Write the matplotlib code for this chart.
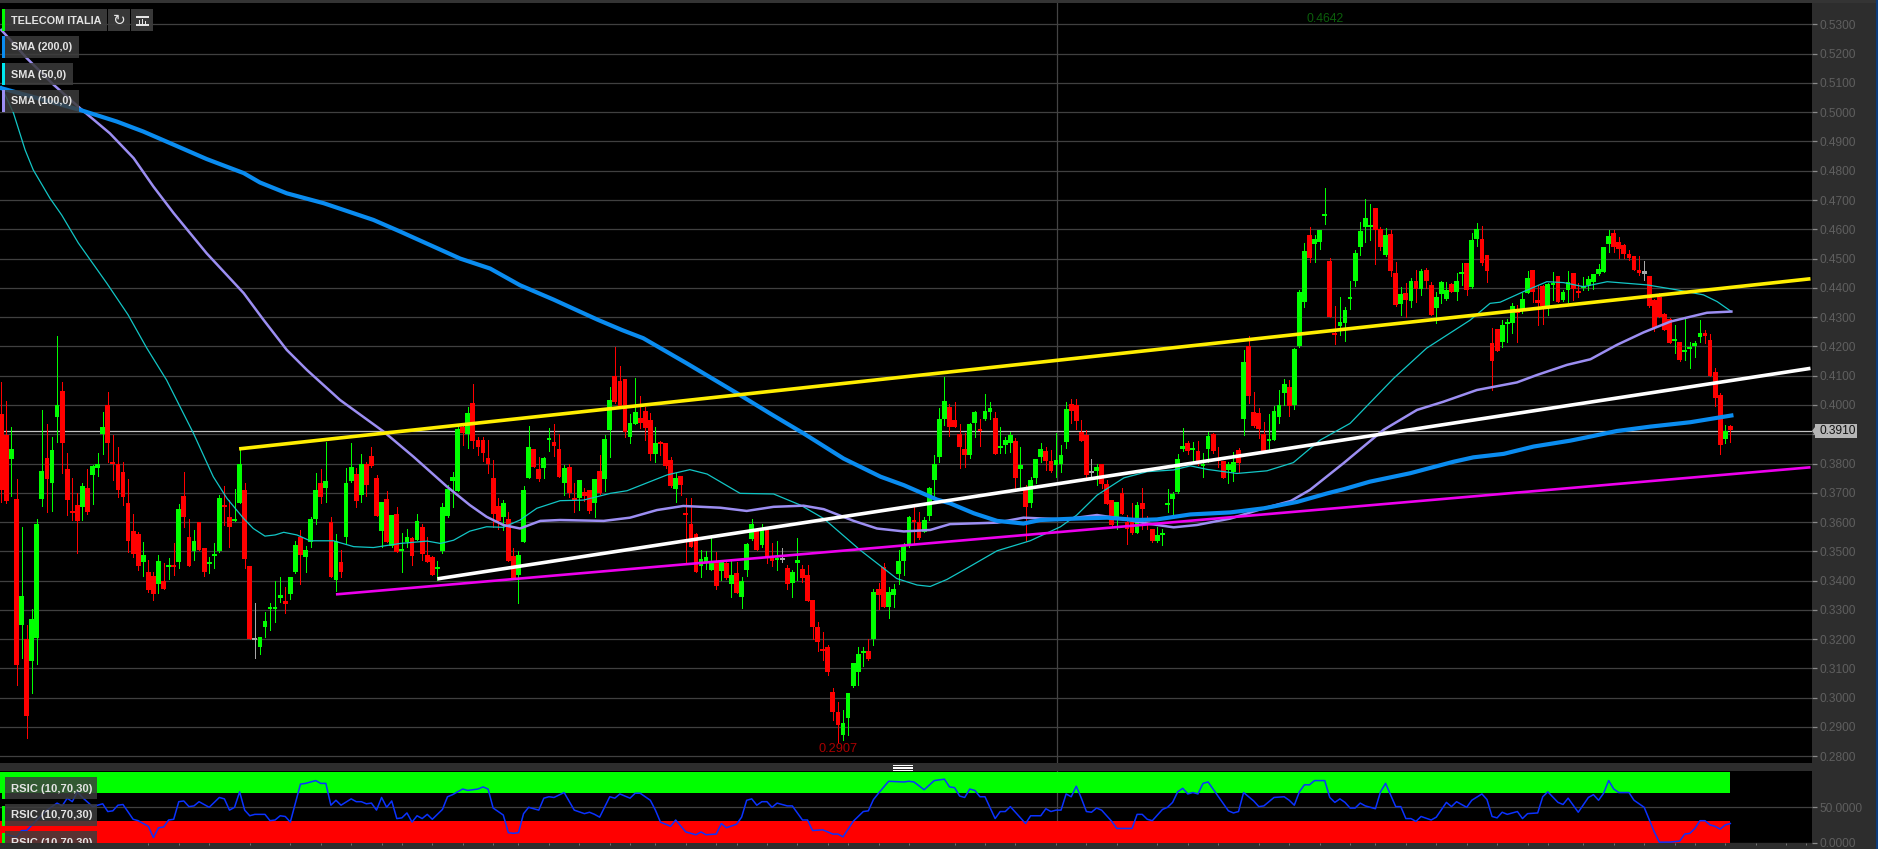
import numpy as np
import matplotlib
matplotlib.use("Agg")
import matplotlib.pyplot as plt
from matplotlib.patches import Rectangle, Polygon

W, H = 1878, 849
plt.rcParams['font.family'] = ['Liberation Sans', 'DejaVu Sans']

# prices in ten-thousandths of a euro, one entry per bar
open_ = [3969,3899,3817,3679,3250,3202,3125,3205,3680,3820,3735,3960,4048,3781,3635,3658,3651,3716,3761,3786,
3901,4000,3800,3799,3770,3665,3569,3559,3464,3430,3415,3390,3399,3447,3450,3463,3688,3550,3501,3599,
3510,3456,3483,3501,3656,3617,3605,3665,3709,3450,3196,3174,3240,3302,3303,3340,3329,3355,3429,3548,
3480,3533,3610,3732,3717,3601,3401,3464,3550,3741,3764,3692,3800,3825,3749,3570,3679,3518,3627,3501,
3533,3544,3540,3583,3489,3479,3438,3500,3622,3741,3707,3926,3901,4008,3880,3879,3819,3750,3656,3617,
3609,3483,3419,3533,3750,3848,3781,3786,3881,3872,3851,3733,3787,3681,3682,3701,3709,3665,3774,3747,
3915,4100,4082,4090,3890,3936,3954,3980,3948,3832,3869,3869,3812,3713,3759,3631,3593,3558,3450,3462,
3437,3464,3434,3459,3389,3425,3343,3437,3541,3576,3522,3573,3484,3470,3471,3443,3393,3460,3438,3419,
3335,3240,3165,3172,3019,2950,2872,2930,3040,3087,3153,3159,3200,3370,3447,3311,3352,3423,3468,3524,
3608,3601,3567,3619,3743,3823,3951,3993,3950,3901,3849,3829,3938,3919,3951,3977,3954,3852,3863,3869,
3877,3781,3712,3666,3751,3823,3843,3808,3794,3799,3873,4004,4001,3909,3899,3767,3774,3798,3730,3675,
3618,3698,3601,3601,3563,3664,3612,3576,3535,3557,3657,3679,3701,3848,3869,3847,3844,3792,3851,3901,
3820,3808,3778,3771,3847,3953,4201,3977,3971,3901,3878,3880,3960,4040,4062,4001,4203,4350,4581,4549,
4555,4646,4491,4247,4268,4280,4363,4424,4541,4607,4607,4673,4600,4513,4583,4450,4345,4384,4354,4424,
4396,4461,4410,4331,4380,4361,4413,4386,4446,4484,4402,4567,4567,4511,4211,4261,4215,4275,4281,4328,
4327,4384,4461,4360,4407,4336,4410,4441,4359,4391,4450,4385,4399,4410,4421,4448,4454,4551,4587,4558,
4548,4516,4510,4461,4449,4441,4359,4370,4311,4294,4219,4214,4180,4190,4202,4232,4245,4222,4113,4034,
3885,3929]
high = [4077,4013,3923,3746,3584,3250,3302,3609,3983,3934,3892,4235,4079,3835,3749,3698,3732,3780,3795,3835,
3977,4043,3897,3855,3804,3746,3626,3567,3533,3472,3430,3489,3461,3476,3527,3660,3770,3609,3573,3599,
3510,3481,3527,3692,3723,3677,3712,3848,3732,3450,3322,3206,3294,3325,3399,3411,3379,3413,3536,3573,
3518,3618,3769,3780,3874,3616,3558,3504,3783,3871,3783,3831,3806,3857,3761,3669,3707,3624,3650,3561,
3578,3550,3626,3592,3550,3485,3467,3666,3726,3770,3926,3937,3992,4070,3889,3889,3882,3812,3681,3675,
3633,3510,3500,3723,3929,3848,3823,3823,3920,3934,3901,3795,3800,3732,3745,3715,3709,3748,3829,3897,
4062,4197,4134,4090,3968,4093,4032,3994,3971,3923,3877,3869,3823,3766,3759,3681,3683,3563,3504,3502,
3546,3499,3470,3470,3468,3462,3411,3527,3612,3576,3595,3573,3527,3534,3513,3454,3436,3544,3455,3452,
3335,3259,3225,3180,3032,2986,2958,3017,3117,3174,3174,3202,3373,3393,3459,3379,3390,3504,3529,3620,
3650,3635,3616,3721,3829,3988,4094,4003,4011,3934,3903,3939,3978,3951,4036,4011,3977,3923,3892,3906,
3886,3855,3726,3755,3817,3869,3857,3846,3905,3863,4009,4019,4019,3948,3914,3814,3797,3798,3743,3675,
3668,3715,3624,3664,3667,3715,3620,3576,3582,3577,3713,3701,3831,3920,3878,3874,3878,3835,3909,3905,
3857,3808,3804,3840,3852,4188,4235,4043,3988,3943,3968,3996,4051,4087,4085,4193,4393,4552,4607,4581,
4598,4740,4501,4338,4368,4336,4425,4530,4626,4703,4686,4673,4609,4604,4598,4490,4404,4416,4433,4461,
4464,4467,4421,4387,4425,4421,4418,4450,4484,4486,4587,4621,4612,4511,4262,4261,4290,4293,4347,4342,
4382,4458,4461,4410,4410,4416,4454,4441,4393,4456,4452,4418,4436,4439,4448,4482,4541,4598,4598,4575,
4550,4530,4510,4509,4491,4441,4361,4384,4313,4296,4273,4216,4293,4216,4219,4290,4256,4241,4125,4040,
3932,3932]
low = [3669,3664,3690,3045,3136,2861,3017,3114,3656,3633,3639,3874,3766,3623,3607,3493,3607,3626,3660,3758,
3831,3806,3743,3684,3657,3499,3481,3436,3417,3362,3333,3356,3372,3404,3419,3442,3584,3450,3470,3504,
3417,3425,3442,3499,3590,3516,3605,3664,3442,3199,3134,3151,3208,3231,3257,3328,3290,3336,3425,3390,
3430,3516,3595,3664,3669,3411,3365,3411,3529,3738,3652,3669,3690,3789,3620,3516,3532,3516,3497,3428,
3516,3455,3538,3470,3462,3419,3402,3493,3618,3652,3706,3862,3852,3852,3829,3808,3766,3584,3576,3573,
3467,3407,3322,3532,3749,3787,3741,3749,3844,3825,3754,3692,3686,3633,3641,3672,3630,3616,3697,3707,
3823,4008,3995,3889,3869,3935,3920,3882,3812,3806,3829,3783,3721,3669,3692,3459,3516,3428,3411,3438,
3436,3370,3402,3407,3345,3356,3305,3415,3538,3504,3516,3459,3450,3436,3464,3370,3345,3402,3394,3330,
3199,3159,3128,3079,2923,2849,2855,2874,3035,3043,3109,3130,3180,3302,3310,3271,3311,3390,3419,3516,
3527,3541,3566,3607,3681,3806,3931,3895,3923,3783,3787,3820,3892,3861,3948,3951,3831,3835,3837,3840,
3715,3721,3534,3652,3735,3806,3778,3772,3755,3770,3852,3939,3917,3877,3751,3755,3726,3715,3661,3584,
3578,3626,3525,3559,3561,3578,3576,3533,3533,3521,3633,3627,3698,3844,3831,3808,3795,3755,3806,3835,
3789,3749,3732,3741,3770,3899,4005,3926,3886,3843,3846,3879,3937,4000,3963,3985,4199,4334,4487,4487,
4532,4617,4300,4207,4239,4218,4327,4408,4513,4555,4564,4481,4530,4510,4439,4339,4308,4302,4336,4353,
4374,4399,4306,4281,4347,4359,4385,4357,4410,4376,4401,4543,4478,4421,4051,4183,4197,4216,4245,4216,
4313,4382,4353,4273,4276,4308,4359,4352,4355,4353,4359,4370,4393,4393,4395,4444,4453,4522,4522,4501,
4501,4495,4461,4444,4427,4336,4251,4300,4255,4212,4177,4149,4152,4125,4165,4216,4211,4099,3997,3831,
3869,3872]
close = [3709,3672,3848,3112,3349,2938,3268,3593,3774,3746,3845,4000,3869,3676,3631,3602,3724,3636,3792,3800,
3923,3871,3797,3708,3686,3535,3491,3451,3489,3369,3355,3467,3373,3450,3447,3643,3617,3451,3534,3505,
3430,3460,3489,3683,3650,3582,3608,3800,3474,3200,3196,3206,3261,3305,3305,3352,3321,3413,3522,3487,
3504,3612,3709,3686,3739,3412,3534,3430,3734,3789,3671,3800,3726,3790,3622,3669,3533,3623,3499,3504,
3548,3485,3605,3491,3463,3420,3446,3650,3713,3754,3918,3905,3974,3877,3855,3837,3800,3628,3603,3665,
3468,3407,3487,3708,3856,3788,3747,3820,3886,3861,3755,3786,3698,3676,3745,3690,3638,3748,3698,3884,
4017,4009,3996,3909,3938,3977,3937,3920,3832,3870,3865,3791,3723,3750,3725,3623,3516,3429,3475,3480,
3464,3381,3464,3409,3420,3357,3398,3526,3592,3504,3578,3481,3467,3472,3471,3388,3428,3469,3410,3331,
3242,3189,3161,3087,2951,2906,2913,3017,3117,3149,3157,3131,3361,3351,3311,3361,3370,3466,3521,3618,
3601,3544,3606,3718,3800,3951,4012,3926,3925,3857,3829,3936,3976,3912,3979,3988,3832,3861,3879,3896,
3751,3795,3652,3743,3817,3849,3809,3774,3811,3828,3987,3978,3945,3878,3761,3767,3788,3731,3663,3590,
3668,3627,3578,3561,3658,3644,3601,3535,3557,3559,3660,3696,3814,3860,3843,3849,3804,3799,3894,3843,
3809,3751,3800,3805,3801,4148,4030,3928,3917,3844,3880,3980,4000,4071,3997,4190,4385,4527,4503,4567,
4598,4649,4301,4239,4285,4325,4367,4519,4593,4640,4612,4596,4541,4579,4456,4341,4379,4359,4424,4396,
4456,4424,4308,4370,4421,4391,4386,4424,4450,4393,4564,4600,4484,4457,4150,4185,4273,4279,4339,4313,
4361,4435,4386,4347,4338,4413,4416,4353,4387,4421,4395,4382,4404,4431,4446,4465,4539,4577,4541,4532,
4517,4502,4462,4452,4449,4338,4262,4302,4256,4213,4226,4152,4187,4197,4213,4245,4237,4100,4025,3863,
3912,3913]

sma200_idx = [0,15.5,22.8,28,34,40.5,47.8,51,56.3,63.6,73.4,78.7,84.6,90.5,96.4,102.3,108.9,117.5,122.4,126.6,
135.2,145.1,151.6,158.2,166.1,173.4,178,184.5,187.1,191.8,196.4,201.6,204.9,212.1,218.1,224,227.9,234.5,
242.4,249,255.6,261.5,264.7,269.9,277.9,286.4,290.3,296.3,302.2,309.4,313.4,318.6,325.2,333.1,341.2]
sma200_val = [5082,5008,4968,4934,4889,4840,4792,4760,4723,4689,4632,4592,4546,4500,4466,4409,4360,4292,4256,4228,
4142,4040,3971,3903,3817,3755,3726,3677,3664,3630,3604,3595,3607,3612,3615,3607,3609,3626,
3633,3647,3669,3698,3712,3738,3767,3806,3821,3833,3858,3878,3892,3911,3926,3941,3964]

sma100_idx = [0,5,10.3,15.5,21.4,26.1,30,34,40.5,47.8,51.7,56.3,60.3,66.8,75.4,81.3,87.9,92.4,95.7,99,102.3,106.3,
110.2,118.8,124,129.3,134.5,141.8,147,152.3,158.2,162.2,168.1,172.7,178,183.2,187.1,196.4,201.6,209.5,216.1,
220.7,226,231.2,235.8,242.4,249,254.3,258.1,264.7,272.6,279.2,284.4,291,298.9,302.8,308.8,313.4,318.6,323.9,
329.2,336.4,341.2]
sma100_val = [5281,5185,5094,5014,4928,4843,4746,4655,4518,4382,4291,4188,4119,4017,3909,3823,3721,3658,3618,3590,3578,3604,
3607,3604,3615,3641,3655,3649,3638,3652,3656,3644,3604,3578,3568,3573,3593,3598,3615,3609,3624,
3612,3595,3582,3590,3612,3647,3672,3710,3801,3915,3983,4011,4051,4077,4102,4137,4156,4205,4248,
4285,4315,4319]

sma50_idx = [0,2.4,4.7,6.3,9.6,11.9,15.2,20.8,25,28.7,32.6,37.9,41.8,44.5,47.8,49.7,52,54,55.7,58.3,60.9,65.5,69.5,
73.4,78.7,84,86.6,89.2,92.4,95.7,99,102.3,105.6,110.2,114.8,120.1,123.4,131.3,135.8,139.2,145.7,152.3,157.6,
162.2,169.4,176.6,180.6,183.2,186.5,190.4,196.4,202.9,208.9,212.1,216.1,221.4,226,231.2,234.5,237.8,243.7,
249.6,254.8,260.1,266,274.6,281.1,289.7,293.6,295.6,300.2,304.8,308.1,312,316.7,324.6,330.5,335.7,338.4,341.2]
sma50_val = [5088,4997,4871,4803,4706,4649,4553,4416,4308,4194,4085,3903,3755,3681,3612,3578,3552,3556,3565,3556,3536,3536,3516,
3513,3527,3535,3527,3538,3569,3584,3582,3607,3647,3673,3675,3698,3707,3761,3779,3764,3698,3696,3658,
3612,3504,3407,3385,3380,3404,3442,3502,3536,3584,3624,3692,3751,3772,3778,3792,3780,3766,
3775,3803,3880,3937,4091,4194,4290,4347,4351,4387,4421,4418,4404,4421,4410,4393,4376,4353,4319]

yellow_idx, yellow_val = [46.9, 356.8], [3850, 4431]
white_idx, white_val = [86, 356.8], [3406, 4125]
magenta_idx, magenta_val = [66, 356.8], [3353, 3787]

rsi_idx = [1,3,4,5,7,9,11,12,13,14,15,16,18,20,21,22,23,24,26,27,29,30,31,32,33,34,35,36,37,38,39,41,43,44,45,46,47,48,49,50,
52,53,54,55,56,57,59,60,62,63,64,65,66,67,69,70,71,72,73,74,75,76,77,78,79,80,81,82,83,84,85,87,88,89,91,92,94,95,96,97,
99,100,101,102,103,104,106,107,108,109,111,113,115,116,117,118,120,121,122,124,125,126,128,129,130,132,133,135,137,138,139,141,142,143,145,146,
147,148,149,150,151,152,153,155,156,158,159,160,162,164,165,166,168,170,171,172,173,175,178,179,180,182,184,186,187,188,189,190,191,192,193,194,
196,197,198,199,202,203,205,206,207,208,209,210,211,212,213,214,215,216,217,219,220,223,224,225,226,227,229,230,231,232,233,234,235,236,237,238,
242,243,244,245,247,248,249,251,253,254,255,256,257,258,259,261,262,263,264,265,266,267,268,269,271,272,273,275,276,277,278,279,280,282,283,285,
286,287,289,290,292,293,294,295,296,297,299,300,301,303,304,305,307,308,309,311,313,314,315,316,317,318,319,321,322,324,326,327,329,331,332,333,
334,335,336,337,338,339,340,341]
rsi_val = [11,8,17,17,32,46,56,52,63,58,72,64,51,55,44,45,53,54,33,31,23,7,21,22,32,33,58,59,51,52,58,50,64,62,46,50,72,46,38,40,
40,31,32,38,37,29,83,84,88,84,84,53,60,53,62,58,58,55,56,46,64,50,59,34,35,42,29,38,34,40,33,47,65,68,76,74,76,79,76,49,
39,14,13,14,41,50,46,63,65,64,71,46,41,43,40,36,65,63,69,63,70,70,60,46,29,23,32,15,11,15,11,12,27,21,26,36,
60,62,53,58,58,50,56,52,52,32,32,17,18,12,12,8,30,44,45,61,70,87,86,87,86,75,88,90,79,78,66,64,76,74,65,65,
34,44,44,51,27,38,38,48,44,46,46,69,65,80,63,44,43,49,46,30,20,20,40,40,33,31,47,50,57,72,77,69,71,69,84,86,
45,42,44,71,59,51,52,64,65,60,53,72,82,82,88,88,64,57,62,57,49,49,56,52,48,72,84,51,51,34,34,30,37,32,36,57,
51,58,50,60,69,61,37,35,43,40,44,34,41,42,65,72,57,54,63,43,64,68,60,70,88,76,71,71,60,50,15,0.5,0.5,2,12,13,
20,31,31,25,23,19,25,27]

price_ticks = [0.28 + 0.01 * k for k in range(26)]
rsi_bar_ticks = [6,13,17,23,29,35,41,49,57,63,69,75,79,85,91,97,102,108,114,120,124,129,135,141,145,151,157,163,167,173,179,
188,194,200,208,214,220,228,234,240,248,254,260,266,271,277,283,289,295,301,305,312,318,324,330,334,340,346,352,356]
last_price = 0.3910
cursor_bar = 208.2

BG = '#2d2d2d'
GRID = '#404040'
UP, DOWN, FLAT = '#00ff00', '#ff0000', '#a8a8a8'

fig = plt.figure(figsize=(W / 100, H / 100), dpi=100, facecolor=BG)


def axes_px(x0, y0, x1, y1):
    return fig.add_axes([x0 / W, 1 - y1 / H, (x1 - x0) / W, (y1 - y0) / H], facecolor='black')


def rect(x0, y0, x1, y1, color, alpha=1.0, z=10):
    fig.add_artist(Rectangle((x0 / W, 1 - y1 / H), (x1 - x0) / W, (y1 - y0) / H, transform=fig.transFigure,
                             facecolor=color, edgecolor='none', alpha=alpha, zorder=z))


def label(x, y, s, color='#e4e4e4', size=7.8, weight='bold', ha='left', z=12, **kw):
    fig.text(x / W, 1 - y / H, s, color=color, fontsize=size, fontweight=weight, ha=ha, va='center', zorder=z, **kw)


ax = axes_px(0, 3, 1812, 763)
xlim = (-0.256, 357.1)
ax.set_xlim(*xlim)
ax.set_ylim(0.2777, 0.5373)

o, h, l, c = [np.array(v) / 1e4 for v in (open_, high, low, close)]
bars = np.arange(len(o))
colors = [UP if b > a else DOWN if b < a else FLAT for a, b in zip(o, c)]

ax.axhline(last_price, color='#c4c4c4', lw=0.9, zorder=2)
ax.axvline(cursor_bar, color='#444444', lw=0.9, zorder=1.5)
ax.vlines(bars, l, h, colors=colors, lw=0.72, zorder=3, antialiased=False)
ax.bar(bars, np.maximum(np.abs(c - o), 0.0007), bottom=np.minimum(o, c), width=0.94, color=colors, zorder=3.1,
       linewidth=0, antialiased=False)

ax.plot(sma50_idx, np.array(sma50_val) / 1e4, color='#12c6c6', lw=0.9, zorder=4)
ax.plot(sma100_idx, np.array(sma100_val) / 1e4, color='#9c8ef2', lw=1.8, zorder=4.1)
ax.plot(sma200_idx, np.array(sma200_val) / 1e4, color='#0a8cf0', lw=3.0, zorder=4.2)
ax.plot(yellow_idx, np.array(yellow_val) / 1e4, color='#ffee00', lw=2.6, zorder=5, solid_capstyle='butt')
ax.plot(white_idx, np.array(white_val) / 1e4, color='#ffffff', lw=2.6, zorder=5, solid_capstyle='butt')
ax.plot(magenta_idx, np.array(magenta_val) / 1e4, color='#ee00ee', lw=1.9, zorder=5, solid_capstyle='butt')

ax.yaxis.tick_right()
ax.set_yticks(price_ticks)
# the last-price flag sits over the 0.3900 tick, so that label is not shown
ax.set_yticklabels(['' if abs(t - 0.39) < 1e-6 else f'{t:.4f}' for t in price_ticks])
ax.tick_params(axis='y', length=3.6, width=0.9, color='#8a8a8a', labelcolor='#5f5f5f', labelsize=8.6, pad=1.6)
ax.set_xticks([])
ax.grid(axis='y', color=GRID, lw=0.9, zorder=1)
ax.set_axisbelow(True)
for s in ax.spines.values():
    s.set_visible(False)

axr = axes_px(0, 771, 1812, 843)
axr.set_xlim(*xlim)
axr.set_ylim(-0.7, 101.6)
axr.axvline(cursor_bar, color='#444444', lw=0.9, zorder=1.5)
axr.fill_between([xlim[0], bars[-1]], 70, 100, color=UP, lw=0, zorder=2)
axr.fill_between([xlim[0], bars[-1]], 0, 30, color=DOWN, lw=0, zorder=2)
axr.plot(rsi_idx, rsi_val, color='#0a32ff', lw=1.1, zorder=3)
axr.yaxis.tick_right()
axr.set_yticks([0, 50])
axr.set_yticklabels(['0.0000', '50.0000'])
axr.tick_params(axis='y', length=3.6, width=0.9, color='#8a8a8a', labelcolor='#5f5f5f', labelsize=8.6, pad=1.6)
axr.set_xticks(rsi_bar_ticks)
axr.set_xticklabels([])
axr.tick_params(axis='x', length=1.6, width=0.7, color='#777777', direction='out')
axr.grid(axis='y', color=GRID, lw=0.9, zorder=1)
axr.set_axisbelow(True)
for s in axr.spines.values():
    s.set_visible(False)

# window chrome
rect(0, 0, 1878, 3, '#343434', z=5)
rect(1876, 0, 1878, 849, '#0c3c7c', z=5)
for y0 in (765.2, 767.4, 769.6):
    rect(893, y0, 913, y0 + 1.2, '#ffffff', z=6)

# legend chips
rect(2, 9, 107, 31, '#3c3c3c', 0.95)
rect(2, 9, 5, 31, '#00ff00', z=11)
label(11, 20.5, 'TELECOM ITALIA')
rect(108, 9, 130, 31, '#3c3c3c', 0.95)
rect(131, 9, 153, 31, '#3c3c3c', 0.95)
label(119.5, 20, '\u21bb', size=11, weight='normal', ha='center', family=['DejaVu Sans'])
rect(136, 24.5, 149, 25.5, '#e4e4e4', z=11)
rect(136, 16.5, 149, 17.5, '#e4e4e4', z=11)
for x0, top in ((139, 20), (142, 19), (145, 21)):
    rect(x0, top, x0 + 1, 24.5, '#e4e4e4', z=11)
for y0, name, col, x1 in ((36, 'SMA (200,0)', '#0a8cf0', 79), (63, 'SMA (50,0)', '#00e8f0', 73),
                          (90, 'SMA (100,0)', '#9c8ef2', 79)):
    rect(2, y0, x1, y0 + 22, '#3c3c3c', 0.85)
    rect(2, y0, 5, y0 + 22, col, z=11)
    label(11, y0 + 11.5, name)
for y0, y1 in ((777, 799), (804, 826), (831, 843)):
    rect(5, y0, 97, y1, '#3c3c3c', 0.85)
    rect(2, y0 + 2, 5, y1, '#00ff00', z=11)
for y in (788.5, 815.5, 842.5):
    label(11, y, 'RSIC (10,70,30)', size=8.1)
rect(0, 843, 120, 849, BG, z=13)

# value flags
label(1325, 18.5, '0.4642', color='#0b5e0b', size=8.8, weight='normal', ha='center')
label(838, 749.5, '0.2907', color='#a80000', size=9.2, weight='normal', ha='center')
rect(1815, 424, 1857, 438, '#b6b6b6', z=11)
fig.add_artist(Polygon([(1812 / W, 1 - 431 / H), (1815 / W, 1 - 427 / H), (1815 / W, 1 - 435 / H)],
                       transform=fig.transFigure, facecolor='#b6b6b6', edgecolor='none', zorder=11))
label(1819.5, 431.5, '0.3910', color='#111111', size=8.6, weight='normal')

fig.savefig('out.png', dpi=100, facecolor=BG)
